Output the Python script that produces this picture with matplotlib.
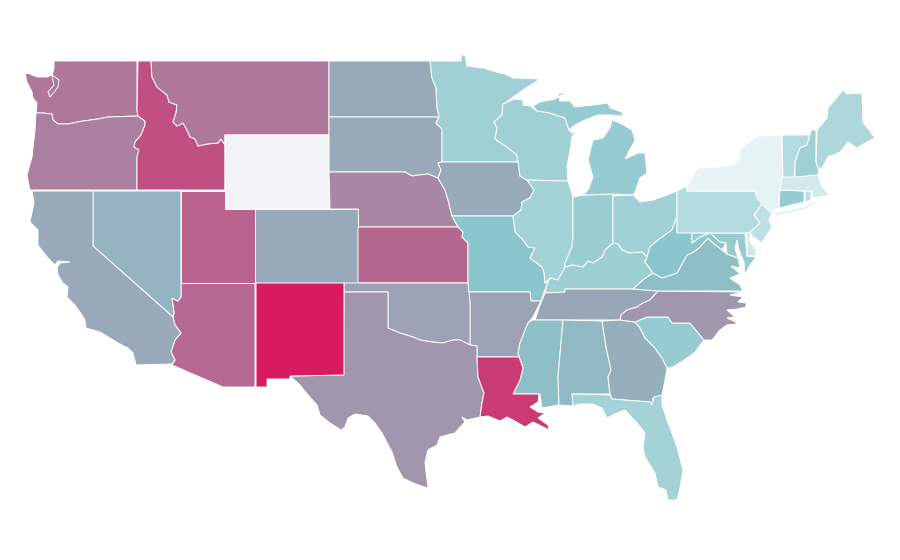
import matplotlib
matplotlib.use("Agg")
import matplotlib.pyplot as plt
from matplotlib.colors import LinearSegmentedColormap, Normalize

# state values (Wyoming has no data)
STATES = ["NM", "LA", "ID", "UT", "KS", "AZ", "MT", "WA", "OR", "NE", "NC", "TX", "OK", "AR", "TN",
          "IA", "SD", "ND", "CO", "CA", "NV", "GA", "AL", "VA", "MS", "WV", "MO", "MD", "CT", "SC",
          "MI", "IN", "OH", "MN", "WI", "IL", "KY", "FL", "NH", "ME", "PA", "VT", "NJ", "RI", "DE",
          "MA", "NY"]
VALUES = [100, 88, 80, 73, 71, 70, 65, 65, 62, 59, 53, 53, 49, 49, 47,
          46, 46, 46, 46, 46, 42, 44, 40, 38, 38, 35, 35, 31, 31, 31,
          31, 30, 27, 27, 27, 26, 28, 26, 27, 22, 20, 20, 16, 16, 10,
          8, 1]
NO_DATA_COLOR = "#f2f3f5"

# outlines in map units, y pointing down
SHAPES = {
    "WA": [[(54, 61), (137, 61), (137, 110), (138, 116), (108, 117), (98, 119), (83, 121), (68, 124), (58, 124), (53, 120), (52, 114), (43, 113), (36, 113), (37, 103), (33, 98), (32, 92), (27, 82), (25, 73), (30, 74), (37, 77), (47, 77), (52, 75), (59, 80), (58, 87), (50, 97), (48, 92), (54, 85), (52, 76), (54, 68)]],
    "OR": [[(36, 113), (43, 113), (52, 114), (53, 120), (58, 124), (68, 124), (83, 121), (98, 119), (108, 117), (138, 116), (145, 121), (145, 125), (141, 135), (135, 142), (134, 147), (139, 150), (137, 157), (137, 190), (30, 190), (27, 175), (32, 157), (35, 130)]],
    "ID": [[(138, 61), (151, 61), (152, 77), (157, 87), (167, 95), (169, 102), (177, 105), (176, 113), (173, 122), (177, 126), (183, 123), (187, 130), (190, 137), (195, 139), (198, 146), (207, 144), (218, 143), (221, 139), (225, 145), (225, 190), (137, 190), (137, 157), (139, 150), (134, 147), (135, 142), (141, 135), (145, 125), (145, 121), (138, 116), (137, 110)]],
    "MT": [[(151, 61), (329, 61), (329, 135), (225, 135), (225, 145), (221, 139), (218, 143), (207, 144), (198, 146), (195, 139), (190, 137), (187, 130), (183, 123), (177, 126), (173, 122), (176, 113), (177, 105), (169, 102), (167, 95), (157, 87), (152, 77)]],
    "WY": [[(225, 135), (329, 135), (330, 209), (225, 209)]],
    "ND": [[(329, 61), (430, 61), (432, 78), (436, 88), (437, 107), (439, 117), (329, 117)]],
    "SD": [[(329, 117), (439, 117), (436, 123), (442, 129), (442, 162), (438, 163), (441, 170), (438, 178), (437, 178), (428, 174), (419, 175), (412, 176), (405, 172), (329, 172)]],
    "NE": [[(329, 172), (405, 172), (412, 176), (419, 175), (428, 174), (438, 178), (445, 190), (448, 200), (452, 216), (458, 227), (358, 227), (358, 209), (330, 209)]],
    "CO": [[(255, 209), (358, 209), (358, 283), (255, 283)]],
    "KS": [[(358, 227), (458, 227), (463, 232), (462, 237), (468, 243), (468, 283), (358, 283)]],
    "MN": [[(430, 61), (461, 61), (461, 55), (465, 55), (467, 66), (483, 68), (500, 73), (505, 74), (513, 78), (540, 79), (523, 90), (505, 103), (503, 104), (502, 115), (494, 122), (497, 128), (495, 139), (507, 147), (517, 155), (518, 162), (442, 162), (442, 129), (436, 123), (439, 117), (437, 107), (436, 88), (432, 78)]],
    "IA": [[(442, 162), (518, 162), (520, 176), (527, 180), (534, 190), (530, 198), (522, 202), (521, 210), (513, 216), (452, 216), (448, 200), (445, 190), (438, 178), (441, 170), (438, 163)]],
    "MO": [[(452, 216), (513, 216), (514, 223), (515, 232), (523, 240), (528, 247), (535, 248), (530, 258), (542, 267), (544, 272), (545, 283), (548, 282), (544, 292), (541, 301), (531, 301), (530, 292), (468, 292), (468, 243), (462, 237), (463, 232), (458, 227)]],
    "WI": [[(503, 104), (515, 99), (523, 100), (523, 105), (530, 106), (537, 111), (550, 113), (565, 118), (569, 130), (572, 133), (575, 132), (572, 137), (570, 150), (567, 167), (568, 181), (527, 180), (520, 176), (518, 162), (517, 155), (507, 147), (495, 139), (497, 128), (494, 122), (502, 115)]],
    "IL": [[(527, 180), (568, 181), (573, 197), (573, 237), (572, 247), (565, 263), (565, 270), (558, 280), (550, 278), (545, 283), (544, 272), (542, 267), (530, 258), (535, 248), (528, 247), (523, 240), (515, 232), (514, 223), (513, 216), (521, 210), (522, 202), (530, 198), (534, 190)]],
    "IN": [[(573, 197), (583, 195), (613, 194), (613, 243), (605, 250), (602, 257), (593, 263), (588, 261), (583, 267), (573, 265), (565, 267), (565, 263), (572, 247), (573, 237)]],
    "MI": [[(583, 195), (613, 194), (633, 195), (635, 192), (640, 178), (647, 173), (645, 153), (638, 153), (625, 159), (635, 140), (632, 130), (620, 123), (612, 120), (610, 128), (603, 138), (593, 140), (588, 160), (593, 177), (588, 190)],
           [(533, 106), (540, 102), (555, 99), (568, 91), (558, 94), (560, 101), (570, 101), (575, 107), (593, 105), (608, 103), (610, 108), (622, 112), (623, 116), (610, 115), (598, 115), (585, 120), (575, 125), (569, 130), (565, 118), (550, 113), (537, 111)]],
    "OH": [[(613, 196), (633, 195), (640, 202), (653, 200), (667, 195), (677, 191), (677, 216), (672, 230), (658, 240), (650, 247), (647, 257), (642, 252), (630, 253), (622, 250), (618, 244), (613, 243)]],
    "KY": [[(565, 267), (573, 265), (583, 267), (588, 261), (593, 263), (602, 257), (605, 250), (613, 243), (618, 244), (622, 250), (630, 253), (642, 252), (647, 257), (645, 262), (653, 273), (643, 280), (633, 289), (565, 289), (565, 292), (545, 293), (547, 285), (550, 278), (558, 280)]],
    "TN": [[(545, 293), (565, 292), (565, 289), (633, 289), (658, 291), (650, 300), (643, 303), (637, 307), (627, 310), (621, 315), (620, 320), (535, 320), (540, 305)]],
    "AR": [[(468, 292), (530, 292), (531, 301), (541, 301), (533, 317), (528, 323), (520, 343), (518, 353), (519, 357), (477, 357), (477, 346), (470, 345), (470, 303)]],
    "OK": [[(344, 283), (468, 283), (470, 303), (470, 345), (460, 340), (453, 340), (443, 343), (432, 342), (420, 340), (413, 337), (400, 333), (388, 328), (388, 292), (344, 292)]],
    "TX": [[(344, 292), (388, 292), (388, 328), (400, 333), (413, 337), (420, 340), (432, 342), (443, 343), (453, 340), (460, 340), (470, 345), (477, 346), (477, 357), (478, 377), (484, 393), (482, 403), (480, 417), (467, 420), (462, 417), (465, 422), (460, 427), (455, 433), (440, 437), (437, 445), (428, 450), (425, 462), (426, 472), (428, 487), (427, 488), (413, 483), (403, 478), (397, 467), (392, 452), (382, 433), (375, 423), (368, 416), (355, 414), (348, 418), (345, 427), (341, 430), (330, 423), (320, 415), (317, 405), (308, 395), (300, 385), (290, 376), (343, 375)]],
    "NM": [[(256, 283), (344, 283), (344, 375), (290, 376), (290, 379), (267, 379), (267, 387), (256, 387)]],
    "AZ": [[(181, 283), (255, 283), (255, 387), (223, 387), (172, 365), (175, 360), (171, 352), (175, 340), (181, 333), (175, 325), (173, 317), (174, 313), (172, 298), (178, 301), (181, 297)]],
    "UT": [[(181, 191), (225, 191), (225, 209), (255, 209), (255, 283), (181, 283)]],
    "NV": [[(93, 191), (181, 191), (181, 297), (178, 301), (172, 298), (174, 313), (173, 317), (93, 246)]],
    "CA": [[(32, 191), (93, 191), (93, 246), (173, 317), (175, 325), (181, 333), (175, 340), (171, 352), (175, 360), (172, 364), (136, 365), (133, 353), (128, 348), (118, 343), (110, 338), (100, 332), (86, 328), (85, 320), (82, 315), (75, 305), (67, 297), (68, 287), (63, 283), (58, 275), (57, 268), (60, 263), (70, 262), (58, 261), (55, 265), (48, 258), (40, 248), (38, 245), (38, 230), (30, 222), (34, 203)]],
    "MS": [[(532, 320), (563, 320), (558, 377), (559, 405), (542, 408), (540, 394), (513, 394), (520, 380), (523, 368), (518, 353), (520, 343), (528, 323)]],
    "LA": [[(477, 357), (519, 357), (523, 368), (520, 380), (513, 394), (539, 394), (538, 402), (530, 407), (538, 412), (545, 413), (538, 418), (548, 425), (549, 430), (533, 422), (525, 427), (513, 420), (507, 417), (500, 421), (488, 416), (480, 417), (482, 403), (484, 393), (478, 377)]],
    "AL": [[(563, 320), (602, 321), (606, 347), (611, 370), (608, 377), (610, 394), (572, 394), (573, 406), (559, 405), (558, 377)]],
    "GA": [[(602, 321), (620, 320), (635, 322), (640, 328), (645, 338), (655, 348), (662, 358), (667, 368), (665, 380), (662, 395), (653, 398), (652, 405), (650, 402), (612, 399), (610, 394), (608, 377), (611, 370), (606, 347)]],
    "FL": [[(572, 394), (610, 395), (612, 399), (650, 402), (652, 405), (654, 397), (662, 395), (662, 405), (667, 420), (677, 447), (683, 470), (680, 488), (677, 500), (668, 500), (666, 490), (658, 487), (655, 473), (645, 457), (643, 447), (645, 433), (637, 423), (625, 410), (617, 413), (607, 418), (602, 408), (593, 404), (580, 404), (573, 406)]],
    "SC": [[(635, 322), (647, 317), (668, 317), (672, 323), (690, 323), (704, 340), (695, 352), (687, 358), (673, 367), (667, 368), (662, 358), (655, 348), (645, 338), (640, 328)]],
    "NC": [[(658, 291), (743, 292), (730, 295), (743, 297), (738, 302), (746, 303), (746, 307), (737, 309), (727, 310), (735, 317), (727, 318), (736, 322), (736, 324), (727, 325), (720, 330), (712, 340), (704, 340), (690, 323), (672, 323), (668, 317), (647, 317), (635, 322), (620, 320), (621, 315), (627, 310), (637, 307), (643, 303), (650, 300)]],
    "VA": [[(633, 289), (643, 280), (653, 273), (662, 278), (677, 273), (687, 255), (692, 253), (700, 247), (708, 238), (713, 243), (722, 250), (727, 254), (738, 258), (740, 268), (731, 266), (740, 274), (730, 278), (740, 285), (743, 291), (658, 291)]],
    "WV": [[(677, 216), (677, 232), (692, 232), (692, 243), (700, 237), (710, 233), (720, 242), (726, 243), (722, 250), (713, 243), (708, 238), (700, 247), (692, 253), (687, 255), (677, 273), (662, 278), (653, 273), (645, 262), (647, 257), (650, 247), (658, 240), (672, 230)]],
    "MD": [[(692, 233), (745, 233), (747, 256), (756, 257), (748, 268), (745, 276), (744, 262), (739, 250), (737, 240), (735, 248), (738, 258), (727, 254), (726, 243), (720, 242), (710, 233), (700, 237), (692, 243)]],
    "DE": [[(747, 232), (751, 232), (749, 240), (756, 250), (756, 256), (747, 256)]],
    "NJ": [[(762, 204), (773, 210), (769, 220), (772, 227), (762, 243), (752, 236), (750, 232), (760, 223), (754, 215)]],
    "PA": [[(677, 191), (687, 186), (687, 191), (755, 191), (757, 198), (762, 204), (754, 215), (760, 223), (750, 232), (745, 233), (677, 233)]],
    "NY": [[(687, 191), (687, 186), (698, 168), (720, 167), (733, 165), (740, 160), (740, 150), (752, 140), (758, 136), (782, 135), (782, 162), (783, 177), (780, 190), (779, 208), (774, 210), (770, 212), (762, 204), (757, 198), (755, 191)],
           [(773, 213), (803, 207), (830, 196), (805, 210), (775, 216)]],
    "CT": [[(780, 190), (804, 191), (804, 202), (779, 208)]],
    "RI": [[(805, 191), (811, 191), (811, 200), (805, 202)]],
    "MA": [[(782, 177), (818, 175), (822, 187), (830, 195), (813, 198), (812, 191), (805, 191), (780, 190)]],
    "VT": [[(782, 135), (810, 135), (807, 145), (800, 148), (795, 162), (794, 177), (783, 177)]],
    "NH": [[(810, 135), (811, 130), (816, 130), (816, 162), (819, 170), (818, 175), (795, 177), (795, 162), (800, 148), (807, 145)]],
    "ME": [[(817, 130), (827, 118), (828, 108), (843, 90), (847, 94), (862, 93), (863, 122), (875, 138), (867, 142), (857, 148), (848, 142), (840, 152), (828, 157), (822, 168), (818, 168), (816, 162)]],
}

cmap = LinearSegmentedColormap.from_list("rates", [(0, "#e8f4f6"), (0.35, "#8bc6cc"), (1, "#d81b60")])
norm = Normalize(0, 100)
value_by_state = dict(zip(STATES, VALUES))

fig, ax = plt.subplots(figsize=(9, 5.6), dpi=100)
fig.subplots_adjust(0, 0, 1, 1)

for state, parts in SHAPES.items():
    value = value_by_state.get(state)
    color = NO_DATA_COLOR if value is None else cmap(norm(value))
    for part in parts:
        xs, ys = zip(*part)
        ax.fill(xs, ys, facecolor=color, edgecolor="white", linewidth=0.7)

ax.set_xlim(0, 900)
ax.set_ylim(560, 0)
ax.axis("off")
fig.savefig("out.png", dpi=100)
